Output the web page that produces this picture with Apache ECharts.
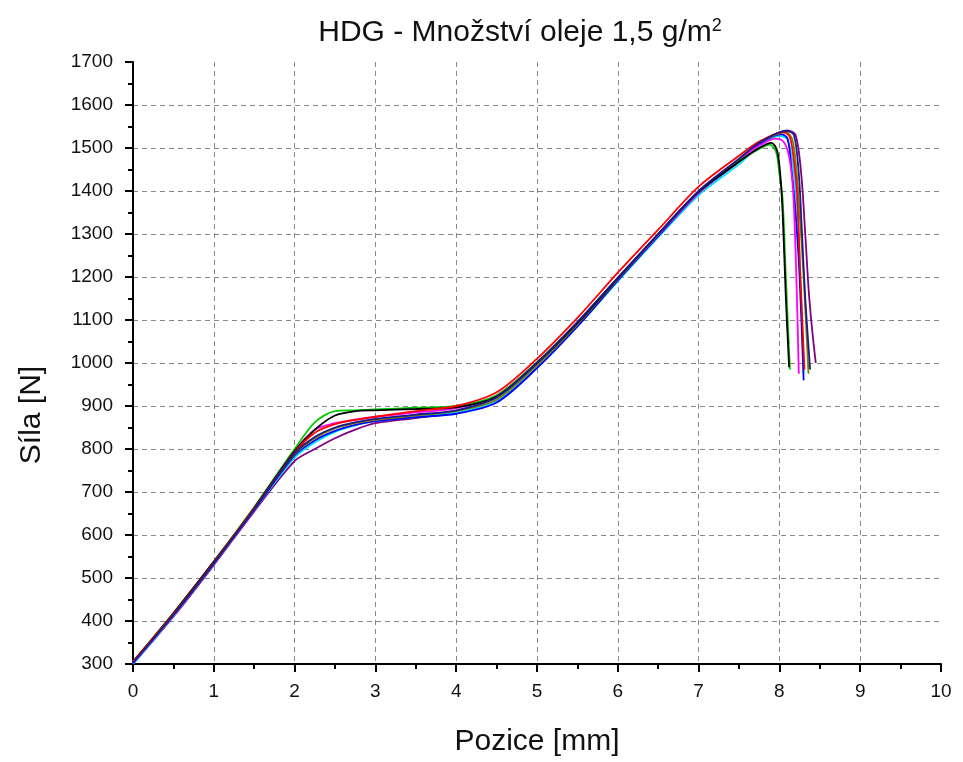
<!DOCTYPE html>
<html>
<head>
<meta charset="utf-8">
<script src="https://cdn.jsdelivr.net/npm/echarts@6/dist/echarts.min.js"></script>
<style>html,body{margin:0;padding:0;background:#fff}#c{width:963px;height:762px}</style>
</head>
<body>
<div id="c"></div>
<script>
// Shared positions (mm) for the rising part of every curve
const xs = [0, 0.5, 1, 1.5, 2, 2.25, 2.5, 2.75, 3, 3.5, 4, 4.5, 5, 5.5, 6, 6.5, 7, 7.5];

// Force values (N) at xs
const greenY   = [305, 418, 538, 665, 800, 862, 888, 890, 892, 896, 900, 925, 1002, 1095, 1198, 1300, 1398, 1470];
const blackY   = [305, 418, 538, 663, 795, 845, 878, 888, 890, 893, 897, 922, 1000, 1093, 1197, 1300, 1398, 1468];
const redY     = [305, 416, 536, 662, 792, 838, 858, 868, 875, 888, 900, 932, 1010, 1105, 1210, 1310, 1410, 1482];
const magentaY = [303, 414, 534, 660, 795, 845, 860, 868, 875, 885, 895, 925, 1002, 1095, 1198, 1298, 1395, 1472];
const navyY    = [303, 414, 534, 660, 790, 828, 850, 862, 870, 880, 890, 920, 1000, 1095, 1198, 1300, 1400, 1475];
const oliveY   = [306, 418, 537, 662, 788, 825, 848, 860, 868, 878, 888, 915, 995, 1090, 1195, 1298, 1398, 1472];
const cyanY    = [300, 412, 532, 658, 780, 815, 840, 855, 865, 875, 885, 912, 990, 1085, 1190, 1292, 1390, 1462];
const blueY    = [302, 414, 534, 659, 785, 820, 842, 856, 865, 874, 882, 908, 988, 1085, 1192, 1295, 1395, 1470];
const purpleY  = [300, 410, 530, 655, 772, 800, 825, 845, 860, 872, 885, 912, 992, 1088, 1192, 1295, 1395, 1468];

// Peak and fracture part of each curve: [position mm, force N]
const greenTail   = [[7.75,1498],[7.88,1508],[7.96,1490],[8.0,1440],[8.04,1380],[8.08,1200],[8.13,985]];
const blackTail   = [[7.75,1500],[7.9,1512],[7.97,1495],[8.01,1440],[8.04,1350],[8.08,1150],[8.12,990]];
const magentaTail = [[7.75,1505],[7.95,1522],[8.05,1515],[8.12,1480],[8.17,1400],[8.21,1200],[8.24,975]];
const cyanTail    = [[7.75,1505],[8.0,1528],[8.1,1520],[8.16,1470],[8.21,1380],[8.26,1200],[8.3,975]];
const blueTail    = [[7.75,1510],[8.02,1532],[8.1,1522],[8.15,1450],[8.2,1350],[8.25,1200],[8.3,960]];
const redTail     = [[7.75,1515],[8.05,1537],[8.13,1525],[8.18,1470],[8.22,1390],[8.26,1200],[8.31,985]];
const oliveTail   = [[7.75,1512],[8.08,1537],[8.16,1520],[8.21,1450],[8.25,1350],[8.3,1200],[8.36,975]];
const navyTail    = [[7.75,1512],[8.08,1540],[8.18,1530],[8.24,1440],[8.28,1300],[8.32,1150],[8.38,985]];
const purpleTail  = [[7.75,1510],[8.1,1541],[8.2,1530],[8.27,1440],[8.32,1300],[8.37,1150],[8.45,1000]];

const xTicks = [0,1,2,3,4,5,6,7,8,9,10];
const yTicks = [300,400,500,600,700,800,900,1000,1100,1200,1300,1400,1500,1600,1700];

const curves = [
  {name:'purple',  color:'#800080', y: purpleY,  tail: purpleTail},
  {name:'cyan',    color:'#00e5ff', y: cyanY,    tail: cyanTail},
  {name:'blue',    color:'#0000ff', y: blueY,    tail: blueTail},
  {name:'olive',   color:'#808000', y: oliveY,   tail: oliveTail},
  {name:'magenta', color:'#ff00ff', y: magentaY, tail: magentaTail},
  {name:'green',   color:'#00cc00', y: greenY,   tail: greenTail},
  {name:'black',   color:'#000000', y: blackY,   tail: blackTail},
  {name:'red',     color:'#ff0000', y: redY,     tail: redTail},
  {name:'navy',    color:'#1a1a8c', y: navyY,    tail: navyTail}
];

const FONT = 'Liberation Sans, Arial, sans-serif';

const series = curves.map(c => ({
  type: 'line',
  name: c.name,
  data: xs.map((x, i) => [x, c.y[i]]).concat(c.tail),
  showSymbol: false,
  smooth: 0.3,
  lineStyle: {color: c.color, width: 1.8},
  itemStyle: {color: c.color},
  z: 3
}));

const chart = echarts.init(document.getElementById('c'), null, {renderer: 'canvas'});
chart.setOption({
  animation: false,
  backgroundColor: '#fff',
  title: {
    text: 'HDG - Množství oleje 1,5 g/m{sup|2}',
    left: 515,
    top: 12,
    textAlign: 'center',
    textStyle: {
      fontFamily: FONT,
      fontSize: 30, fontWeight: 'normal', color: '#111',
      rich: {sup: {fontSize: 18, verticalAlign: 'top', padding: [0,0,14,0], color:'#111', fontFamily: FONT}}
    }
  },
  grid: {left: 133, right: 22, top: 62, bottom: 98, containLabel: false, outerBoundsMode: 'none'},
  xAxis: {
    type: 'value', min: 0, max: 10, interval: 1,
    name: 'Pozice [mm]', nameLocation: 'middle', nameGap: 63,
    nameTextStyle: {fontFamily: FONT, fontSize: 30, color: '#111'},
    axisLine: {show: true, onZero: false, lineStyle: {color: '#000', width: 2}},
    axisTick: {show: true, inside: false, length: 8, lineStyle: {color: '#000', width: 2}},
    minorTick: {show: true, splitNumber: 2, length: 5, lineStyle: {color: '#000', width: 2}},
    axisLabel: {fontFamily: FONT, fontSize: 19, color: '#111', margin: 18,
      formatter: v => xTicks.includes(v) ? String(v) : ''},
    splitLine: {show: true, showMinLine: false, showMaxLine: false, lineStyle: {color: '#888', type: [5,4], width: 1}}
  },
  yAxis: {
    type: 'value', min: 300, max: 1700, interval: 100,
    name: 'Síla [N]', nameLocation: 'middle', nameGap: 86, nameRotate: 90,
    nameTextStyle: {fontFamily: FONT, fontSize: 30, color: '#111', padding: [0, 104, 0, 0]},
    axisLine: {show: true, onZero: false, lineStyle: {color: '#000', width: 2}},
    axisTick: {show: true, inside: false, length: 8, lineStyle: {color: '#000', width: 2}},
    minorTick: {show: true, splitNumber: 2, length: 5, lineStyle: {color: '#000', width: 2}},
    axisLabel: {fontFamily: FONT, fontSize: 19, color: '#111', margin: 20,
      formatter: v => yTicks.includes(v) ? String(v) : ''},
    splitLine: {show: true, showMinLine: false, showMaxLine: false, lineStyle: {color: '#888', type: [5,4], width: 1}}
  },
  series: series
});
</script>
</body>
</html>
